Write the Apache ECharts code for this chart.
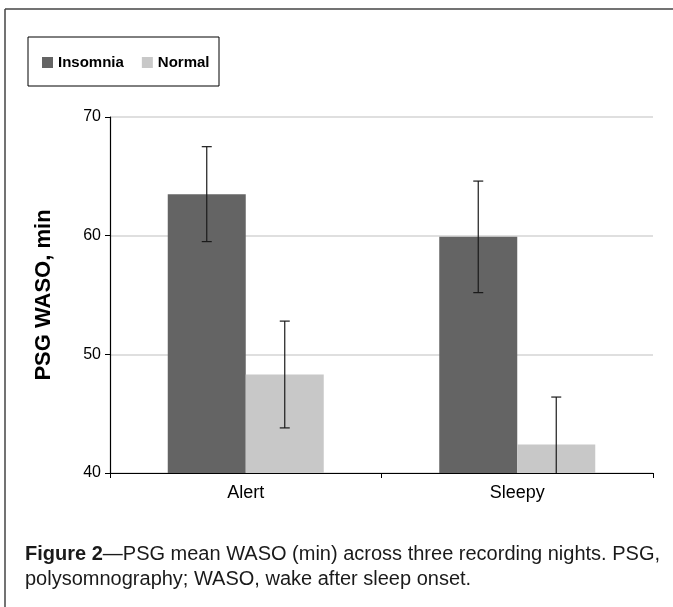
<!DOCTYPE html>
<html>
<head>
<meta charset="utf-8">
<script src="https://cdn.jsdelivr.net/npm/echarts@6/dist/echarts.min.js"></script>
<style>
  html, body { margin: 0; padding: 0; background: #fff; }
  #main { width: 673px; height: 607px; }
</style>
</head>
<body>
<div id="main"></div>
<script>
var categories = ['Alert', 'Sleepy'];
var insomnia = [63.5, 59.9];
var insomniaErr = [4.0, 4.7];
var normal = [48.3, 42.4];
var normalErr = [4.5, 4.0];
var yTicks = [40, 50, 60, 70];

var BAR_W = 78;
var FONT = '"Liberation Sans", Arial, sans-serif';

// error bars for one series, shifted left or right of the category centre
function errorBars(name, values, errs, shift) {
  return {
    name: name + ' err',
    type: 'custom',
    clip: true,
    z: 10,
    data: values.map(function (v, i) { return [i, v - errs[i], v + errs[i]]; }),
    renderItem: function (params, api) {
      var lo = api.coord([api.value(0), api.value(1)]);
      var hi = api.coord([api.value(0), api.value(2)]);
      var x = lo[0] + shift;
      var cap = 5;
      var style = { stroke: '#1a1a1a', lineWidth: 1.2 };
      return {
        type: 'group',
        children: [
          { type: 'line', shape: { x1: x, y1: lo[1], x2: x, y2: hi[1] }, style: style },
          { type: 'line', shape: { x1: x - cap, y1: hi[1], x2: x + cap, y2: hi[1] }, style: style },
          { type: 'line', shape: { x1: x - cap, y1: lo[1], x2: x + cap, y2: lo[1] }, style: style }
        ]
      };
    }
  };
}

var chart = echarts.init(document.getElementById('main'));
chart.setOption({
  animation: false,
  textStyle: { fontFamily: FONT },
  grid: { left: 110, top: 117, right: 20, bottom: 134 },
  legend: {
    left: 42, top: 55, padding: 0,
    itemWidth: 11, itemHeight: 11, itemGap: 18,
    icon: 'rect',
    textStyle: { fontSize: 15, fontWeight: 'bold', color: '#000', fontFamily: FONT },
    data: ['Insomnia', 'Normal']
  },
  xAxis: {
    type: 'category',
    data: categories,
    axisLine: { lineStyle: { color: '#000', width: 1.2 } },
    axisTick: { show: true, length: 5, lineStyle: { color: '#000' } },
    axisLabel: { fontSize: 18, color: '#000', margin: 11, fontFamily: FONT }
  },
  yAxis: {
    type: 'value',
    min: yTicks[0],
    max: yTicks[yTicks.length - 1],
    interval: 10,
    name: 'PSG WASO, min',
    nameLocation: 'middle',
    nameGap: 55,
    nameTextStyle: { fontSize: 22, fontWeight: 'bold', color: '#000', fontFamily: FONT },
    axisLine: { show: true, lineStyle: { color: '#000', width: 1.2 } },
    axisTick: { show: true, length: 5, lineStyle: { color: '#000' } },
    axisLabel: { fontSize: 16, color: '#000', margin: 9, fontFamily: FONT },
    splitLine: { lineStyle: { color: '#d4d4d4', width: 1.5 } }
  },
  series: [
    { name: 'Insomnia', type: 'bar', data: insomnia, barWidth: BAR_W, barGap: '0%', itemStyle: { color: '#646464' } },
    { name: 'Normal', type: 'bar', data: normal, barWidth: BAR_W, barGap: '0%', itemStyle: { color: '#c8c8c8' } },
    errorBars('Insomnia', insomnia, insomniaErr, -BAR_W / 2),
    errorBars('Normal', normal, normalErr, BAR_W / 2)
  ],
  graphic: [
    { type: 'line', shape: { x1: 5, y1: 9, x2: 673, y2: 9 }, style: { stroke: '#444', lineWidth: 1.5 } },
    { type: 'line', shape: { x1: 5, y1: 9, x2: 5, y2: 607 }, style: { stroke: '#444', lineWidth: 1.5 } },
    { type: 'rect', shape: { x: 28, y: 37, width: 191, height: 49 }, style: { fill: 'none', stroke: '#000', lineWidth: 1 } },
    {
      type: 'text', left: 25, top: 542,
      style: {
        text: '{b|Figure 2}—PSG mean WASO (min) across three recording nights. PSG,\npolysomnography; WASO, wake after sleep onset.',
        fontSize: 20, lineHeight: 25, fill: '#1a1a1a',
        fontFamily: FONT,
        rich: { b: { fontWeight: 'bold', fontSize: 20, fill: '#1a1a1a', fontFamily: FONT } }
      }
    }
  ]
});
</script>
</body>
</html>
